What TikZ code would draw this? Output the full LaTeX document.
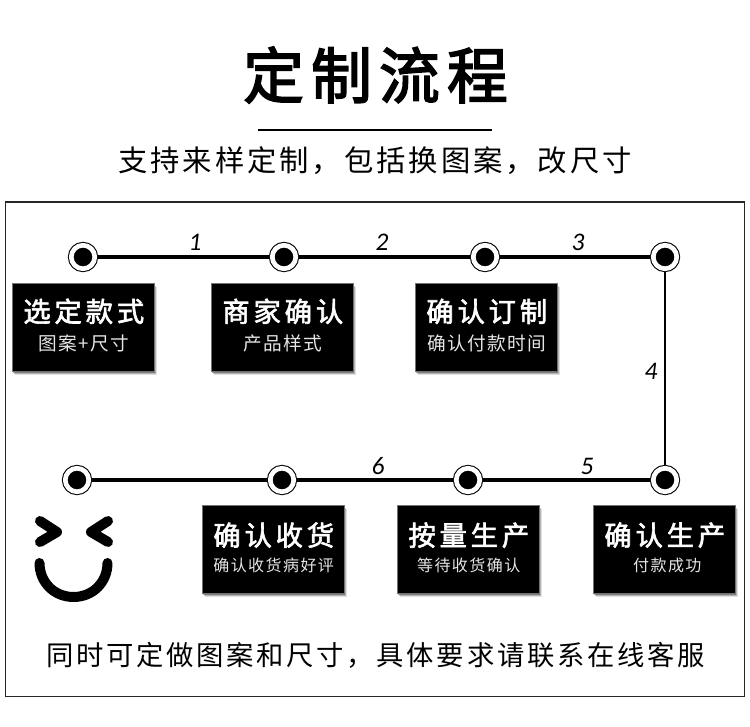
\documentclass[tikz,border=0pt]{standalone}
\usepackage{fontspec}
\usepackage{tikz}
\usetikzlibrary{shadows}
\newfontfamily\cjkfont{Noto Sans CJK SC}
\newfontfamily\numfont{Carlito}
\newcommand{\headtext}[1]{\raisebox{2.25pt}[\height][\depth]{\hspace*{1.2pt}\fontsize{20.5}{20.5}\selectfont\addfontfeature{LetterSpace=14,FakeBold=2.2}#1}}
\newcommand{\subtext}[1]{{\hspace*{1pt}\fontsize{14}{14}\selectfont\addfontfeature{LetterSpace=7}\color{black!10}#1}}
\newcommand{\subsmall}[1]{{\hspace*{1pt}\fontsize{12}{12}\selectfont\addfontfeature{LetterSpace=9}\color{black!10}#1}}
\tikzset{
    stepdot/.style={circle, draw=black, fill=black, line width=0.8pt, double=white, double distance=3.5pt,
        minimum size=17.6pt, inner sep=0pt, outer sep=2.1pt},
    stepbox/.style={rectangle, fill=black, draw=black!55, line width=0.6pt, minimum width=106.5pt,
        minimum height=66pt, inner sep=0pt, text=white, align=center, font=\cjkfont,
        drop shadow={shadow xshift=2.4pt, shadow yshift=-3pt, fill=black, opacity=0.12},
        drop shadow={shadow xshift=1.6pt, shadow yshift=-2.2pt, fill=black, opacity=0.2},
        drop shadow={shadow xshift=0.8pt, shadow yshift=-1.4pt, fill=black, opacity=0.3}},
    stepnum/.style={font=\numfont\itshape\fontsize{19}{19}\selectfont, inner sep=0pt},
    hline/.style={line width=2.6pt},
    vline/.style={line width=1.9pt},
    face/.style={line width=7.5pt, line cap=round, line join=round}
}
\begin{document}
\begin{tikzpicture}[x=0.75pt, y=-0.75pt]
    \useasboundingbox (0,0) rectangle (750,727);

    % Draw title and the rule below it
    \node[font=\cjkfont\fontsize{45.5}{45.5}\selectfont\addfontfeature{LetterSpace=12,FakeBold=2.8}] (title) at (375.5,75) {定制流程};
    \coordinate (ruleL) at (258,130);
    \coordinate (ruleR) at (492,130);
    \draw[line width=0.8pt] (ruleL) -- (ruleR);
    \node[font=\cjkfont\fontsize{22}{22}\selectfont\addfontfeature{LetterSpace=10}] (subtitle) at (375,161) {支持来样定制，包括换图案，改尺寸};

    % Draw the frame
    \draw[line width=1.1pt, draw=black!85] (5.5,202) rectangle (744.5,696.5);

    % Dots of the upper row
    \node[stepdot] (dotA) at (83,257) {};
    \node[stepdot] (dotB) at (284,257) {};
    \node[stepdot] (dotC) at (485,257) {};
    \node[stepdot] (dotD) at (665,257) {};

    % Dots of the lower row
    \node[stepdot] (dotE) at (665,480) {};
    \node[stepdot] (dotF) at (468,480) {};
    \node[stepdot] (dotG) at (282,480) {};
    \node[stepdot] (dotH) at (77,480) {};

    % Lines between the dots
    \draw[hline] (dotA) -- (dotB);
    \draw[hline] (dotB) -- (dotC);
    \draw[hline] (dotC) -- (dotD);
    \draw[vline] (dotD) -- (dotE);
    \draw[hline] (dotE) -- (dotF);
    \draw[hline] (dotF) -- (dotG);
    \draw[hline] (dotG) -- (dotH);

    % Numbers along the lines
    \node[stepnum] (numA) at (195,242) {1};
    \node[stepnum] (numB) at (382,242) {2};
    \node[stepnum] (numC) at (578,242) {3};
    \node[stepnum] (numD) at (651,371) {4};
    \node[stepnum] (numE) at (587,466) {5};
    \node[stepnum] (numF) at (378,466) {6};

    % Boxes of the upper row
    \node[stepbox] (boxA) at (83,327) {\headtext{选定款式}\\[5pt]\subtext{图案+尺寸}};
    \node[stepbox] (boxB) at (282,327) {\headtext{商家确认}\\[5pt]\subtext{产品样式}};
    \node[stepbox] (boxC) at (486,327) {\headtext{确认订制}\\[5pt]\subtext{确认付款时间}};

    % Boxes of the lower row
    \node[stepbox] (boxD) at (664,549) {\headtext{确认生产}\\[5pt]\subsmall{\hspace{4pt}付款成功}};
    \node[stepbox] (boxE) at (468,549) {\headtext{按量生产}\\[5pt]\subsmall{等待收货确认}};
    \node[stepbox] (boxF) at (273,549) {\headtext{确认收货}\\[5pt]\subsmall{确认收货病好评}};

    % Draw the smiling face
    \draw[face] (40,521) -- (57,532) -- (40,542);
    \draw[face] (108,521) -- (91,532) -- (108,542);
    \draw[face] (39.5,563) .. controls (39.5,582) and (54,597) .. (73.5,597) .. controls (93,597) and (107.5,582) .. (107.5,563);

    % Closing line
    \node[font=\cjkfont\fontsize{20.5}{20.5}\selectfont\addfontfeature{LetterSpace=10}] (note) at (375.5,655) {同时可定做图案和尺寸，具体要求请联系在线客服};
\end{tikzpicture}
\end{document}
